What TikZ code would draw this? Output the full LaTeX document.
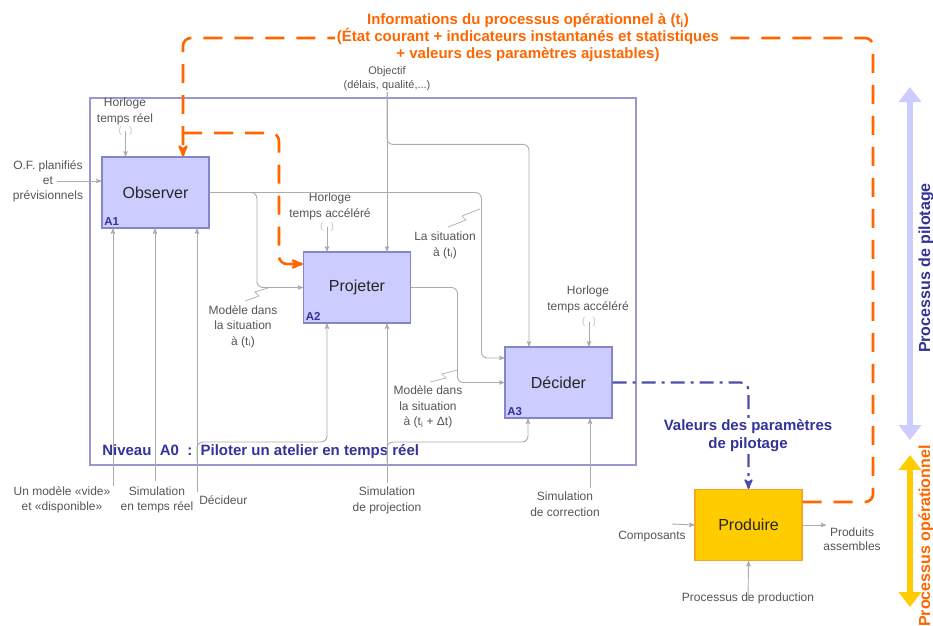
\documentclass[tikz,border=0pt]{standalone}
\usepackage{fontspec}
\setmainfont{Liberation Sans}
\usetikzlibrary{arrows}
\usetikzlibrary{arrows.meta}
\usetikzlibrary{positioning}
\definecolor{lav}{HTML}{CCCCFF}
\definecolor{lavline}{HTML}{8585CC}
\definecolor{navy}{HTML}{333399}
\definecolor{wiregray}{HTML}{ABABAB}
\definecolor{txtgray}{HTML}{555555}
\definecolor{orng}{HTML}{FF6600}
\definecolor{gold}{HTML}{FFCC00}
\definecolor{goldline}{HTML}{F5A623}
\definecolor{dashblue}{HTML}{4D4DAA}

\tikzstyle{act} = [rectangle, draw=lavline, fill=lav, line width=1.1pt,
    minimum width=107pt, minimum height=71pt, text=black!85,
    font=\fontsize{16}{18}\selectfont]
\tikzstyle{actcode} = [anchor=south west, inner sep=2.5pt, text=navy,
    font=\bfseries\fontsize{11.5}{12}\selectfont]
\tikzstyle{lbl} = [align=center, inner sep=1pt, text=txtgray,
    font=\fontsize{12}{16}\selectfont]
\tikzstyle{tun} = [inner sep=0pt, text=wiregray!70,
    font=\fontsize{10}{10}\selectfont]
\tikzstyle{flow} = [draw=wiregray, line width=0.9pt, rounded corners=6pt]
\tikzstyle{squig} = [draw=wiregray, line width=0.7pt, -]
\tikzstyle{odash} = [draw=orng, line width=2.6pt, rounded corners=8pt,
    dash pattern=on 19pt off 12pt]
\tikzstyle{pdash} = [draw=dashblue, line width=2.2pt, rounded corners=8pt,
    dash pattern=on 14pt off 6pt on 3pt off 6pt]
\tikzstyle{bigtxt} = [align=center, inner sep=2pt, fill=white,
    font=\bfseries\fontsize{15}{17}\selectfont]
\tikzstyle{sidetxt} = [rotate=90, inner sep=0pt,
    font=\bfseries\fontsize{16}{18}\selectfont]

\begin{document}
\begin{tikzpicture}[->,>=stealth',x=1pt,y=-1pt,semithick]
  \useasboundingbox (0,0) rectangle (933,625);

  % A0 frame
  \node[draw=lavline!85, line width=1.4pt, minimum width=546pt,
        minimum height=367pt, inner sep=0pt] (a0) at (363,281.5) {};
  \node[anchor=west, inner sep=0pt, text=navy,
        font=\bfseries\fontsize{15}{16}\selectfont] (lvl) at (102,452)
        {Niveau\ \ A0\ \ :\ \ Piloter un atelier en temps réel};

  % activities
  \node[act] (ob) at (155.5,192.5) {Observer};
  \node[act] (pj) at (357,287.5) {Projeter};
  \node[act] (dc) at (558.5,382.5) {Décider};
  \node[act, fill=gold, draw=goldline] (pr) at (748.5,525) {Produire};
  \node[actcode] (a1) at (ob.south west) {A1};
  \node[actcode] (a2) at (pj.south west) {A2};
  \node[actcode] (a3) at (dc.south west) {A3};

  % labels
  \node[lbl] (clkA) at (125,111) {Horloge\\temps réel};
  \node[tun] (tunA) at (125.5,131) {(\hspace{7pt})};
  \node[lbl] (clkB) at (330,206.5) {Horloge\\temps accéléré};
  \node[tun] (tunB) at (327,227) {(\hspace{7pt})};
  \node[lbl] (clkC) at (588,299) {Horloge\\temps accéléré};
  \node[tun] (tunC) at (589,322) {(\hspace{7pt})};
  \node[lbl, font=\fontsize{11}{14}\selectfont] (obj) at (387,79)
        {Objectif\\(délais, qualité,...)};
  \node[lbl, font=\fontsize{12}{15}\selectfont] (ofin) at (48,181)
        {O.F. planifiés\\et\\prévisionnels};
  \node[lbl] (sitA) at (445,245) {La situation\\à (t\textsubscript{i})};
  \node[lbl, font=\fontsize{12}{15.5}\selectfont] (modA) at (243,326.5)
        {Modèle dans\\la situation\\à (t\textsubscript{i})};
  \node[lbl, font=\fontsize{12}{15.5}\selectfont] (modB) at (428,407)
        {Modèle dans\\la situation\\à (t\textsubscript{i} + Δt)};
  \node[lbl, font=\fontsize{12}{15}\selectfont] (empty) at (62,499.5)
        {Un modèle «vide»\\et «disponible»};
  \node[lbl, font=\fontsize{12}{15}\selectfont] (simrt) at (157,499.5)
        {Simulation\\en temps réel};
  \node[lbl, anchor=west] (dcd) at (198,500) {Décideur};
  \node[lbl] (simpj) at (387,500) {Simulation\\de projection};
  \node[lbl] (simcr) at (565,504) {Simulation\\de correction};
  \node[lbl] (comp) at (652,537) {Composants};
  \node[lbl, font=\fontsize{12}{14}\selectfont] (prod) at (852,539)
        {Produits\\assembles};
  \node[lbl] (proc) at (748,598) {Processus de production};

  % controls from above
  \draw[flow] (tunA.center) -- (tunA.center |- ob.north);
  \draw[flow] (tunB.center) -- (tunB.center |- pj.north);
  \draw[flow] (tunC.center) -- (tunC.center |- dc.north);
  \draw[flow] (obj.south) -- (obj.south |- pj.north);
  \draw[flow] (obj.south) -- ++(0,52) -| ([xshift=-29.5pt]dc.north);

  % inputs / outputs
  \draw[flow] ([xshift=9pt]ofin.center) -- ([yshift=11.5pt]ob.west);
  \draw[flow] (ob.east) -| ([xshift=-46pt]pj.west) -- (pj.west);
  \draw[flow] (ob.east) -| ([xshift=-23pt,yshift=24.5pt]dc.west)
        -- ([yshift=24.5pt]dc.west);
  \draw[flow] (pj.east) -| ([xshift=-47pt]dc.west) -- (dc.west);

  % mechanisms from below
  \draw[flow] (113,486) -- ([xshift=-42.5pt]ob.south);
  \draw[flow] (155,481) -- ([xshift=-0.5pt]ob.south);
  \draw[flow] (197,492) -- ([xshift=41.5pt]ob.south);
  \draw[flow] (197,462) |- (327,442) -- ([xshift=-30pt]pj.south);
  \draw[flow] (387,483) -- ([xshift=30pt]pj.south);
  \draw[flow] (387,462) |- (528,442) -- ([xshift=-30.5pt]dc.south);
  \draw[flow] (590,488) -- ([xshift=31.5pt]dc.south);

  % squiggles
  \draw[squig] (448,227) -- (466,220) -- (462,216) -- (480,209);
  \draw[squig] (245,301) -- (259,296) -- (255,292) -- (268,288);
  \draw[squig] (430,382) -- (446,378) -- (442,374) -- (458,370);

  % production
  \draw[flow] (672,524) -- (pr.west);
  \draw[flow] (pr.east) -- (826,525);
  \draw[flow] ([yshift=-10pt]proc.north) -- (pr.south);

  % feedback from production
  \draw[odash] ([yshift=23pt]pr.east) -| (873,38)
        -| ([xshift=27.5pt]ob.north);
  \draw[odash] (183,133) -| ([xshift=-24pt,yshift=23.5pt]pj.west)
        -- ([yshift=23.5pt]pj.west);
  \node[bigtxt, text=orng] (info) at (528,38)
        {Informations du processus opérationnel à (t\textsubscript{i})\\
         (État courant + indicateurs instantanés et statistiques\\
         + valeurs des paramètres ajustables)};

  % decision to production
  \draw[pdash] (dc.east) -| (pr.north);
  \node[bigtxt, text=navy, fill=white, font=\bfseries\fontsize{15}{18}\selectfont]
        (val) at (748,436) {Valeurs des paramètres\\de pilotage};

  % side arrows
  \coordinate (ptop) at (910,87);
  \coordinate (pbot) at (910,440);
  \coordinate (otop) at (910,455);
  \coordinate (obot) at (910,607);
  \draw[lav, line width=6pt, {Triangle[width=22pt,length=15pt]}-{Triangle[width=22pt,length=15pt]}]
        (ptop) -- (pbot);
  \draw[gold, line width=6pt, {Triangle[width=22pt,length=15pt]}-{Triangle[width=22pt,length=15pt]}]
        (otop) -- (obot);
  \node[sidetxt, text=navy] (plab) at (926,268) {Processus de pilotage};
  \node[sidetxt, text=orng] (olab) at (926,536) {Processus opérationnel};
\end{tikzpicture}
\end{document}
